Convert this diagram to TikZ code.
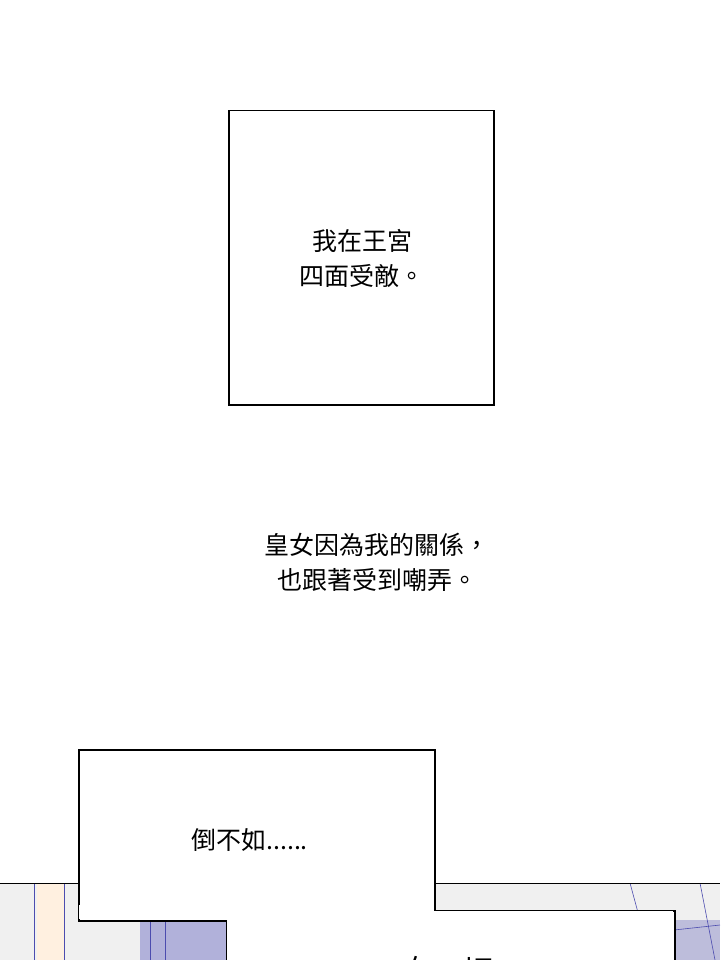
\documentclass[tikz,border=0pt]{standalone}
\usepackage{fontspec}
\newfontfamily\cjk{Noto Sans CJK TC}
\begin{document}
\begin{tikzpicture}[x=1pt,y=-1pt,
  box/.style={draw=black,line width=1.5pt,fill=white},
  txt/.style={font=\cjk\fontsize{25}{35}\selectfont,align=center,inner sep=0}]
\useasboundingbox (0,0) rectangle (720,960);
\fill[white] (0,0) rectangle (720,960);
\begin{scope}
\clip (0,883) rectangle (720,960);
\fill[gray!12] (0,883) rectangle (720,960);
\fill[orange!12] (37,883) rectangle (64,960);
\draw[blue!55!black!70,line width=0.6pt] (34,883)--(34,960) (64,883)--(64,960);
\fill[blue!35!gray!45] (140,883) rectangle (226,960);
\draw[blue!55!black!70,line width=0.6pt] (150,883)--(150,960) (165,883)--(165,960);
\fill[blue!30!gray!40] (674,920) rectangle (720,960);
\draw[blue!55!black!70,line width=0.6pt] (630,883)--(640,920) (700,883)--(715,960) (674,930)--(720,925);
\draw[line width=1.5pt] (0,883)--(720,883);
\end{scope}
\node[box,minimum width=265,minimum height=294,anchor=north west] (b1) at (228,110) {};
\node[txt] (t1) at (362,258) {我在王宮\\四面受敵。};
\node[txt] (t2) at (377,562) {皇女因為我的關係，\\也跟著受到嘲弄。};
\node[box,minimum width=448,minimum height=80,anchor=north west] (b3) at (226,910) {};
\node[box,minimum width=356,minimum height=171,anchor=north west] (b2) at (78,749) {};
\fill[white] (79,905) rectangle (433,919);
\fill[white] (227,911) rectangle (673,960);
\node[txt,anchor=west] (t3) at (191,840) {倒不如......};
\begin{scope}
\clip (0,0) rectangle (720,960);
\node[txt,font=\cjk\fontsize{30}{36}\selectfont,anchor=west] (t4) at (403,970) {在一切};
\end{scope}
\end{tikzpicture}
\end{document}
